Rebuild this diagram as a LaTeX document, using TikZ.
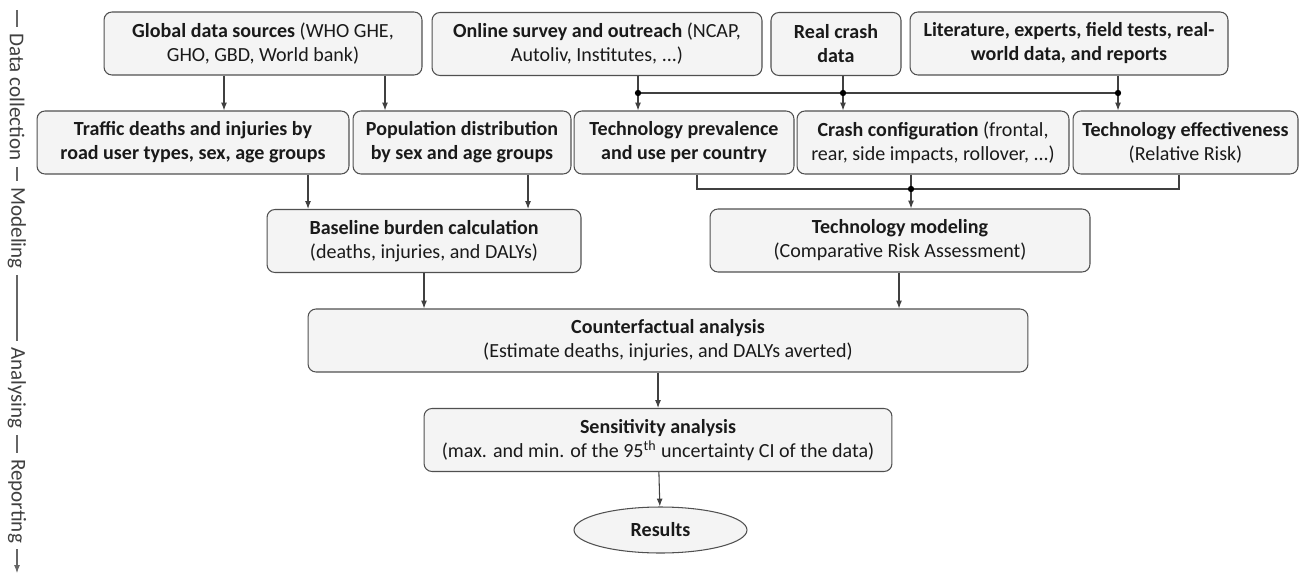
\documentclass[tikz,border=0pt]{standalone}
\usepackage{fontspec}
\setmainfont{Carlito}
\usepackage{tikz}
\usetikzlibrary{arrows.meta}
\usetikzlibrary{shapes.geometric}
\tikzset{>={Latex[length=4.5pt,width=3.4pt]}}
\definecolor{boxline}{HTML}{505050}
\definecolor{boxfill}{HTML}{F4F4F4}
\definecolor{ink}{HTML}{1A1A1A}
\newcommand\flowfont{\fontsize{11.4}{13.7}\selectfont}
\newcommand\sidefont{\fontsize{12}{14}\selectfont}
\tikzset{
    box/.style={draw=boxline, fill=boxfill, line width=0.6pt, rounded corners=4.5pt,
        align=center, minimum height=1.26cm, inner sep=0pt, text=ink, font=\flowfont},
    link/.style={draw=black!75, line width=0.6pt},
    side/.style={rotate=-90, text=black!75, font=\sidefont, inner sep=0pt, outer sep=3.5pt},
}

\begin{document}
\begin{tikzpicture}[x=0.02cm, y=-0.02cm]
    \useasboundingbox (0,0) rectangle (1300,574);
    \node[box, minimum width=6.36cm] (glob) at (263,43.5) {\textbf{Global data sources} (WHO GHE,\\GHO, GBD, World bank)};
    \node[box, minimum width=6.6cm] (online) at (597,44) {\textbf{Online survey and outreach} (NCAP,\\Autoliv, Institutes, ...)};
    \node[box, minimum width=2.6cm] (crash) at (836,44) {\textbf{Real crash}\\\textbf{data}};
    \node[box, minimum width=6.36cm] (lit) at (1069,43.5) {\textbf{Literature, experts, field tests, real-}\\\textbf{world data, and reports}};
    \node[box, minimum width=6.24cm] (traffic) at (193,142.5) {\textbf{Traffic deaths and injuries by}\\\textbf{road user types, sex, age groups}};
    \node[box, minimum width=4.36cm] (popul) at (462,142.5) {\textbf{Population distribution}\\\textbf{by sex and age groups}};
    \node[box, minimum width=4.4cm] (prev) at (684,142.5) {\textbf{Technology prevalence}\\\textbf{and use per country}};
    \node[box, minimum width=5.44cm] (config) at (933,142.5) {\textbf{Crash configuration} (frontal,\\rear, side impacts, rollover, ...)};
    \node[box, minimum width=4.5cm] (effect) at (1185.5,142.5) {\textbf{Technology effectiveness}\\(Relative Risk)};
    \node[box, minimum width=6.28cm] (base) at (424,241) {\textbf{Baseline burden calculation}\\(deaths, injuries, and DALYs)};
    \node[box, minimum width=7.6cm] (model) at (900,240.5) {\textbf{Technology modeling}\\(Comparative Risk Assessment)};
    \node[box, minimum width=14.4cm] (counter) at (668,340.5) {\textbf{Counterfactual analysis}\\(Estimate deaths, injuries, and DALYs averted)};
    \node[box, minimum width=9.36cm] (sens) at (658,440) {\textbf{Sensitivity analysis}\\(max. and min. of the 95\textsuperscript{th} uncertainty CI of the data)};
    \node[box, ellipse, minimum width=3.46cm, minimum height=0.92cm] (res) at (660.5,530) {\textbf{Results}};

    \coordinate (gt) at (224,0);
    \coordinate (gp) at (385,0);
    \draw[link, ->] (glob.south -| gt) -- (traffic.north -| gt);
    \draw[link, ->] (glob.south -| gp) -- (popul.north -| gp);

    \coordinate (j1) at (638,93);
    \coordinate (j2) at (843,93);
    \coordinate (j3) at (1118,93);
    \draw[link] (online.south -| j1) -- (j1) -- (j3);
    \draw[link] (crash.south -| j2) -- (j2);
    \draw[link] (lit.south -| j3) -- (j3);
    \draw[link, ->] (j1) -- (prev.north -| j1);
    \draw[link, ->] (j2) -- (config.north -| j2);
    \draw[link, ->] (j3) -- (effect.north -| j3);
    \foreach \j in {j1, j2, j3}
        \fill (\j) circle[radius=1.8pt];

    \coordinate (k1) at (697,189);
    \coordinate (k2) at (911,189);
    \coordinate (k3) at (1179,189);
    \draw[link] (prev.south -| k1) -- (k1) -- (k3) -- (effect.south -| k3);
    \draw[link] (config.south -| k2) -- (k2);
    \draw[link, ->] (k2) -- (model.north -| k2);
    \fill (k2) circle[radius=1.8pt];

    \coordinate (bt) at (308,0);
    \coordinate (bp) at (528,0);
    \coordinate (cb) at (424,0);
    \coordinate (cm) at (899,0);
    \draw[link, ->] (traffic.south -| bt) -- (base.north -| bt);
    \draw[link, ->] (popul.south -| bp) -- (base.north -| bp);
    \draw[link, ->] (base.south -| cb) -- (counter.north -| cb);
    \draw[link, ->] (model.south -| cm) -- (counter.north -| cm);
    \draw[link, ->] (counter.south -| sens.north) -- (sens.north);
    \draw[link, ->] (sens) -- (res);

    \node[side] (dc) at (17,97) {Data collection};
    \node[side] (mo) at (17,228) {Modeling};
    \node[side] (an) at (17,388) {Analysing};
    \node[side] (rp) at (17,501) {Reporting};
    \coordinate (s0) at (17,10);
    \coordinate (s1) at (17,573);
    \draw[link, black!60] (s0) -- (dc.west);
    \draw[link, black!60] (dc.east) -- (mo.west);
    \draw[link, black!60] (mo.east) -- (an.west);
    \draw[link, black!60] (an.east) -- (rp.west);
    \draw[link, black!60, ->] (rp.east) -- (s1);
\end{tikzpicture}
\end{document}
